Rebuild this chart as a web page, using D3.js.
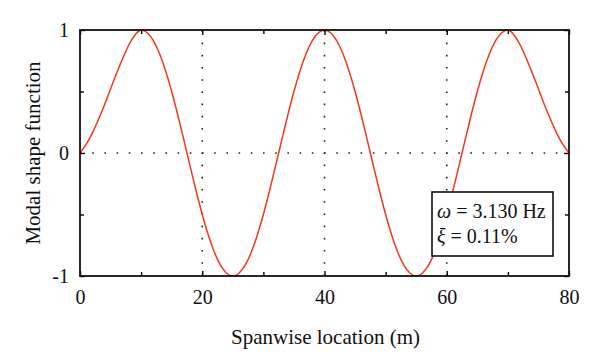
<!DOCTYPE html>
<html><head><meta charset="utf-8">
<script src="https://cdn.jsdelivr.net/npm/d3@7"></script>
<style>
html,body{margin:0;padding:0;background:#fff;}
svg{display:block;}
svg text{font-family:"Liberation Serif","DejaVu Serif","Noto Serif",serif !important;}
</style></head>
<body>
<svg id="chart" width="600" height="360"></svg>
<script>
// Spanwise location (m)
const spanwise = d3.range(0, 81, 1);
// Modal shape function values (one per metre)
const modalShape = [
  0, 0.07, 0.16, 0.27, 0.39, 0.52, 0.65, 0.77, 0.88, 0.96, 1,
  0.978, 0.914, 0.809, 0.669, 0.5, 0.309, 0.105, -0.105, -0.309, -0.5, -0.669, -0.809, -0.914, -0.978, -1,
  -0.978, -0.914, -0.809, -0.669, -0.5, -0.309, -0.105, 0.105, 0.309, 0.5, 0.669, 0.809, 0.914, 0.978, 1,
  0.978, 0.914, 0.809, 0.669, 0.5, 0.309, 0.105, -0.105, -0.309, -0.5, -0.669, -0.809, -0.914, -0.978, -1,
  -0.978, -0.914, -0.809, -0.669, -0.5, -0.309, -0.105, 0.105, 0.309, 0.5, 0.669, 0.809, 0.914, 0.978, 1,
  0.96, 0.88, 0.77, 0.65, 0.52, 0.39, 0.27, 0.16, 0.07, 0
];
const xMajorTicks = [0, 20, 40, 60, 80];
const xMinorTicks = [10, 30, 50, 70];
const yMajorTicks = [-1, 0, 1];
const yMinorTicks = [-0.5, 0.5];
const xTitle = "Spanwise location (m)";
const yTitle = "Modal shape function";
const annotation = [["ω", " = 3.130 Hz"], ["ξ", " = 0.11%"]];

const svg = d3.select("#chart");
const L = 80, R = 569, T = 30, B = 276;
const x = d3.scaleLinear().domain([0, 80]).range([L, R]);
const y = d3.scaleLinear().domain([-1, 1]).range([B, T]);

// dotted grid at major ticks
const grid = svg.append("g").attr("stroke", "#222").attr("stroke-width", 1.6)
  .attr("stroke-dasharray", "1.6,10.6");
grid.selectAll("line.gx").data(xMajorTicks.filter(d => d > 0 && d < 80)).join("line")
  .attr("x1", d => x(d)).attr("x2", d => x(d)).attr("y1", B).attr("y2", T);
grid.selectAll("line.gy").data([0]).join("line")
  .attr("x1", L).attr("x2", R).attr("y1", d => y(d)).attr("y2", d => y(d));

// curve
const line = d3.line().x((d, i) => x(spanwise[i])).y(d => y(d)).curve(d3.curveNatural);
svg.append("path").datum(modalShape).attr("d", line)
  .attr("fill", "none").attr("stroke", "#ee3a1d").attr("stroke-width", 1.5);

// axes (inward ticks, mirrored)
const tickStyle = g => { g.select(".domain").remove(); g.attr("font-family", null); g.selectAll("line").attr("stroke", "#000").attr("stroke-width", 1.4); };
svg.append("g").attr("transform", `translate(0,${B})`)
  .call(d3.axisBottom(x).tickValues(xMajorTicks).tickSize(-5).tickPadding(14).tickFormat(d3.format("d")))
  .call(tickStyle)
  .call(g => g.selectAll("text").attr("font-size", 20).attr("fill", "#111"));
svg.append("g").attr("transform", `translate(0,${B})`)
  .call(d3.axisBottom(x).tickValues(xMinorTicks).tickSize(-4).tickFormat("")).call(tickStyle);
svg.append("g").attr("transform", `translate(0,${T})`)
  .call(d3.axisTop(x).tickValues(xMajorTicks).tickSize(-5).tickFormat("")).call(tickStyle);
svg.append("g").attr("transform", `translate(0,${T})`)
  .call(d3.axisTop(x).tickValues(xMinorTicks).tickSize(-4).tickFormat("")).call(tickStyle);
svg.append("g").attr("transform", `translate(${L},0)`)
  .call(d3.axisLeft(y).tickValues(yMajorTicks).tickSize(-5).tickPadding(11).tickFormat(d => d === 0 ? "0" : (d < 0 ? "-1" : "1")))
  .call(tickStyle)
  .call(g => g.selectAll("text").attr("font-size", 20).attr("fill", "#111"));
svg.append("g").attr("transform", `translate(${L},0)`)
  .call(d3.axisLeft(y).tickValues(yMinorTicks).tickSize(-4).tickFormat("")).call(tickStyle);
svg.append("g").attr("transform", `translate(${R},0)`)
  .call(d3.axisRight(y).tickValues(yMajorTicks).tickSize(-5).tickFormat("")).call(tickStyle);
svg.append("g").attr("transform", `translate(${R},0)`)
  .call(d3.axisRight(y).tickValues(yMinorTicks).tickSize(-4).tickFormat("")).call(tickStyle);

// frame
svg.append("rect").attr("x", L).attr("y", T).attr("width", R - L).attr("height", B - T)
  .attr("fill", "none").attr("stroke", "#111").attr("stroke-width", 1.8);

// axis titles
svg.append("text").attr("x", (L + R) / 2 + 1).attr("y", 344).attr("text-anchor", "middle")
  .attr("font-size", 21).attr("fill", "#111").text(xTitle);
svg.append("text").attr("transform", `translate(40,${(T + B) / 2}) rotate(-90)`)
  .attr("text-anchor", "middle").attr("font-size", 21).attr("fill", "#111").text(yTitle);

// annotation box
svg.append("rect").attr("x", 432).attr("y", 192).attr("width", 121).attr("height", 64)
  .attr("fill", "#fff").attr("stroke", "#111").attr("stroke-width", 1.6);
annotation.forEach((a, i) => {
  const t = svg.append("text").attr("x", 437).attr("y", 218 + i * 25)
    .attr("font-size", 20).attr("fill", "#111");
  t.append("tspan").attr("font-style", "italic").text(a[0]);
  t.append("tspan").text(a[1]);
});
</script>
</body></html>
